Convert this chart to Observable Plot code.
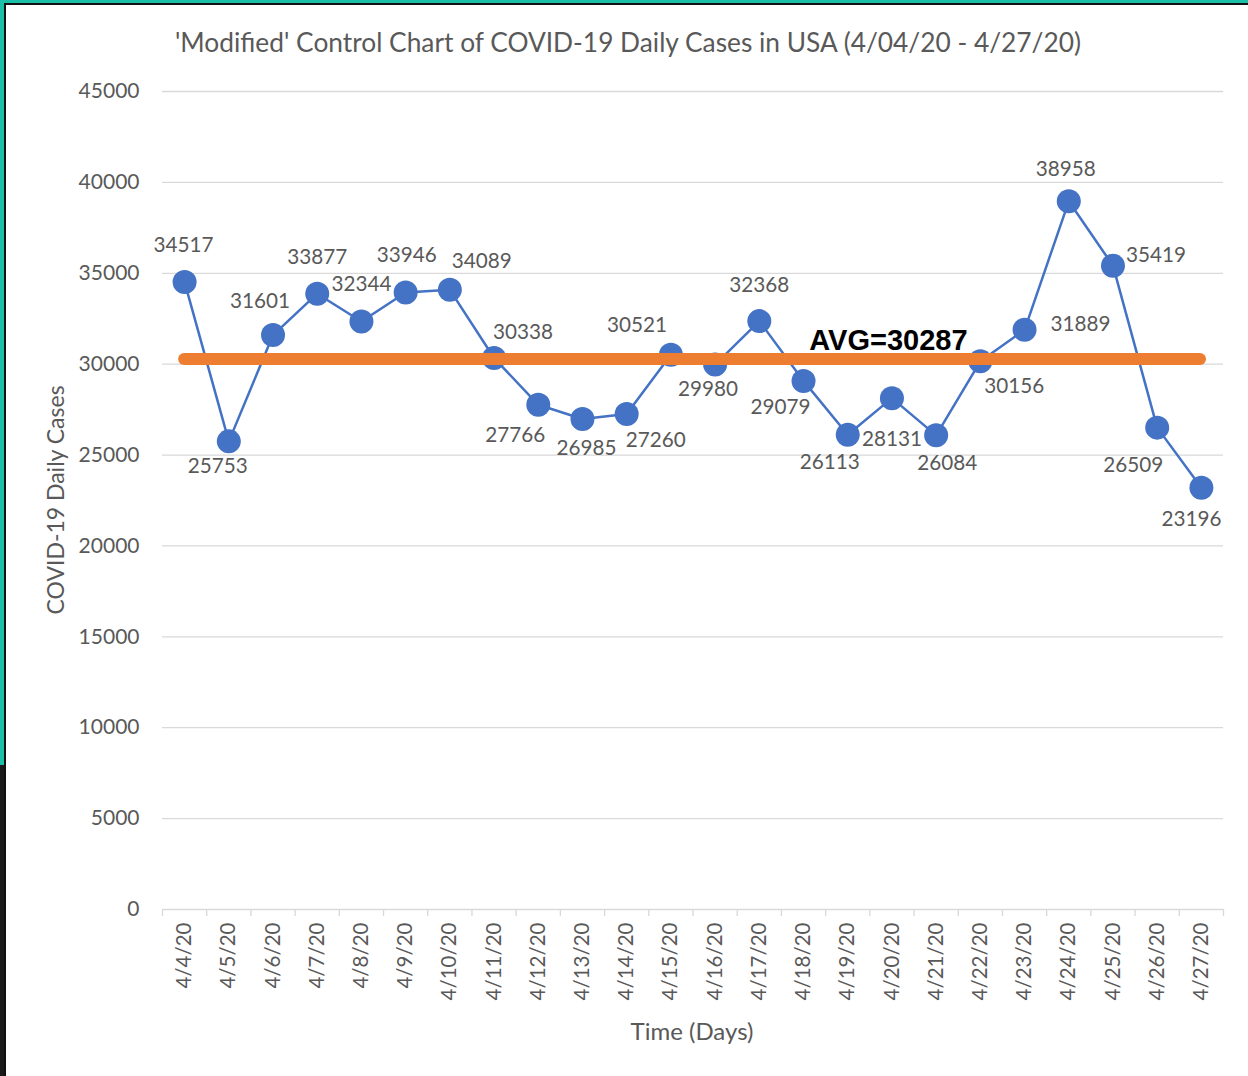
<!DOCTYPE html>
<html>
<head>
<meta charset="utf-8">
<script src="https://cdn.jsdelivr.net/npm/d3@7"></script>
<script src="https://cdn.jsdelivr.net/npm/@observablehq/plot@0.6"></script>
<style>
  html, body { margin: 0; padding: 0; background: #fff; }
  body { width: 1248px; height: 1076px; position: relative; overflow: hidden; font-family: Lato, "Open Sans", sans-serif; }
  #chart { position: absolute; left: 0; top: 0; }
  .b { position: absolute; }
  .title { position: absolute; left: 628px; top: 42px; transform: translate(-50%, -50%); font-size: 26.3px; color: #595959; white-space: nowrap; }
  .ytitle { position: absolute; left: 55px; top: 500px; transform: translate(-50%, -50%) rotate(-90deg); font-size: 23px; color: #595959; white-space: nowrap; }
  .xtitle { position: absolute; left: 692px; top: 1030px; transform: translate(-50%, -50%); font-size: 24px; color: #595959; white-space: nowrap; }
</style>
</head>
<body>
<div id="chart"></div>
<div class="title">'Modified' Control Chart of COVID-19 Daily Cases in USA (4/04/20 - 4/27/20)</div>
<div class="ytitle">COVID-19 Daily Cases</div>
<div class="xtitle">Time (Days)</div>
<div class="b" style="left:0;top:0;width:1248px;height:3px;background:#1bbfa8"></div>
<div class="b" style="left:0;top:3px;width:1248px;height:2px;background:#111"></div>
<div class="b" style="left:0;top:0;width:4px;height:765px;background:#1bbfa8"></div>
<div class="b" style="left:4px;top:3px;width:2px;height:1073px;background:#111"></div>
<div class="b" style="left:0;top:765px;width:4px;height:311px;background:#1a1a1a"></div>
<script>
const dates = ["4/4/20","4/5/20","4/6/20","4/7/20","4/8/20","4/9/20","4/10/20","4/11/20","4/12/20","4/13/20","4/14/20","4/15/20","4/16/20","4/17/20","4/18/20","4/19/20","4/20/20","4/21/20","4/22/20","4/23/20","4/24/20","4/25/20","4/26/20","4/27/20"];
const cases = [34517,25753,31601,33877,32344,33946,34089,30338,27766,26985,27260,30521,29980,32368,29079,26113,28131,26084,30156,31889,38958,35419,26509,23196];
const average = 30287;
const yTicks = [0,5000,10000,15000,20000,25000,30000,35000,40000,45000];

// label placement relative to each dot (style only)
const labelOffsets = [[-1,-37],[-11,25],[-13,-34],[0,-36],[0,-37],[1,-37],[32,-28],[29,-26],[-23,31],[4,29],[29,26],[-34,-29],[-7,25],[0,-36],[-23,26],[-18,28],[0,41],[11,28],[34,25],[56,-5],[-3,-32],[43,-10],[-24,38],[-10,32]];

const data = dates.map((d, i) => ({date: d, idx: i + 0.5, value: cases[i]}));
const bounds = d3.range(dates.length + 1);

const font = "Lato, 'Open Sans', sans-serif";
const grey = "#595959";

const marks = [
  Plot.ruleY(yTicks, {y: d => d, x1: 0, x2: dates.length, stroke: "#d9d9d9", strokeWidth: 1.3}),
  Plot.ruleX(bounds, {x: d => d, y1: 0, y2: 0, insetBottom: -7, stroke: "#d9d9d9", strokeWidth: 1.3}),
  Plot.text(yTicks, {x: 0, y: d => d, text: d => String(d), textAnchor: "end", dx: -23, fontSize: 21, fill: grey}),
  Plot.text(data, {x: "idx", y: 0, text: "date", rotate: -90, textAnchor: "end", lineAnchor: "middle", dy: 13, fontSize: 20.5, fill: grey}),
  Plot.line(data, {x: "idx", y: "value", stroke: "#4472C4", strokeWidth: 2.5}),
  Plot.dot(data, {x: "idx", y: "value", r: 12, fill: "#4472C4", stroke: "none"}),
  Plot.ruleY([average], {x1: 0.5, x2: dates.length - 0.52, stroke: "#ED7D31", strokeWidth: 12, strokeLinecap: "round"}),
  Plot.text([average], {x: 16.42, y: d => d, text: d => "AVG=" + d, fontSize: 29, fontWeight: "bold", fill: "#000", dy: -18, fontFamily: "Liberation Sans, Arial, sans-serif"})
];
data.forEach((d, i) => {
  marks.push(Plot.text([d], {x: "idx", y: "value", text: dd => String(dd.value), dx: labelOffsets[i][0], dy: labelOffsets[i][1], fontSize: 20.7, fill: grey, lineAnchor: "middle"}));
});

const chart = Plot.plot({
  width: 1248,
  height: 1076,
  marginLeft: 162,
  marginRight: 25,
  marginTop: 91,
  marginBottom: 167,
  style: {fontFamily: font, background: "transparent"},
  x: {type: "linear", domain: [0, dates.length], axis: null},
  y: {domain: [0, 45000], axis: null},
  marks
});
document.getElementById("chart").appendChild(chart);
</script>
</body>
</html>
